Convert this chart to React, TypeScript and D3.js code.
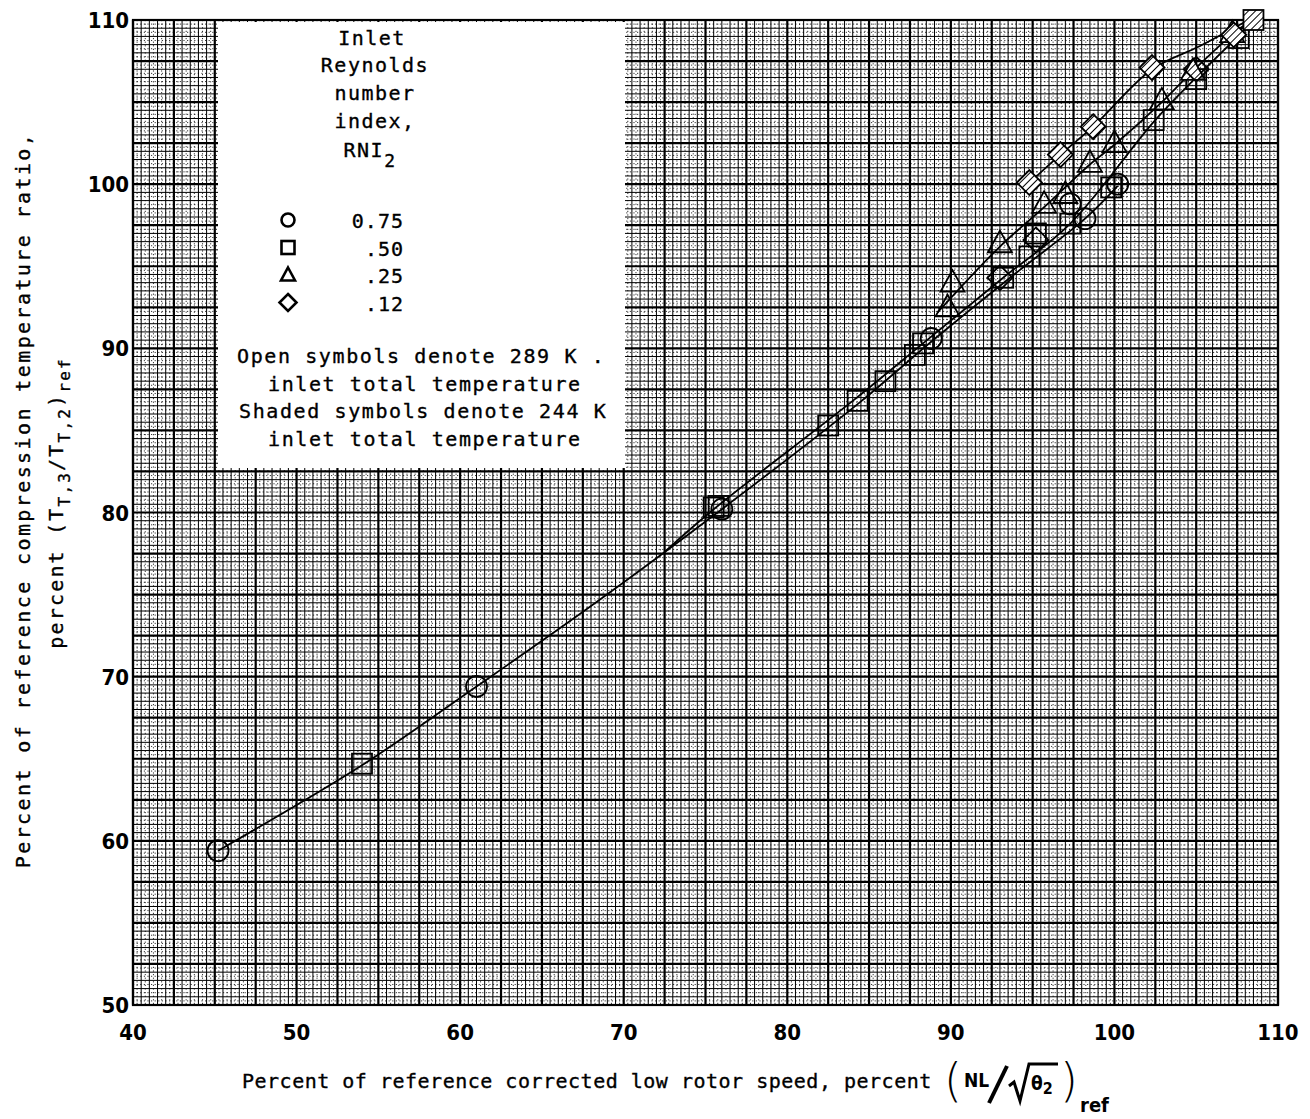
import React from "react";
import * as d3 from "d3";

// ---- data ----
const xTicks = [40, 50, 60, 70, 80, 90, 100, 110];
const yTicks = [50, 60, 70, 80, 90, 100, 110];

// faired curves [speed, temperature ratio]
const curveCommon: [number, number][] = [
  [45.2, 59.4], [54.0, 64.6], [61.0, 69.4], [68.0, 74.3], [76.0, 80.2], [84.3, 86.6], [88.8, 90.4], [94.0, 94.6], [98.2, 97.9], [100.2, 99.9],
];
const curve050: [number, number][] = [
  [72.5, 77.6], [75.5, 80.2], [84.0, 86.8], [88.3, 90.3], [93.2, 94.3], [97.3, 97.6], [102.4, 103.8], [105.0, 106.5], [108.6, 110.0],
];
const curve025: [number, number][] = [
  [89.2, 92.2], [93.0, 96.2], [95.7, 98.6], [98.5, 101.2], [100.0, 102.4], [102.9, 105.0], [104.8, 106.9], [107.3, 109.2], [108.4, 110.0],
];
const curve012: [number, number][] = [
  [94.6, 99.9], [96.7, 101.8], [98.7, 103.5], [102.3, 107.0], [105.2, 108.4], [108.2, 110.0],
];

const circles: [number, number, number][] = [ // x, y, shaded
  [45.2, 59.4, 0], [61.0, 69.4, 0], [76.0, 80.2, 0], [88.8, 90.6, 0], [98.2, 97.9, 0], [100.2, 100.0, 0], [97.3, 98.8, 0],
];
const squares: [number, number, number][] = [
  [54.0, 64.7, 0], [75.5, 80.3, 0], [75.8, 80.4, 0], [82.5, 85.3, 0], [84.3, 86.8, 0], [86.0, 88.0, 0], [87.8, 89.6, 0], [88.3, 90.3, 0],
  [93.2, 94.3, 0], [94.8, 95.6, 0], [95.2, 97.0, 0], [97.3, 97.6, 0], [99.8, 99.8, 0], [102.4, 103.9, 0], [105.0, 106.4, 0], [107.6, 108.9, 0], [108.5, 110.0, 1],
];
const triangles: [number, number, number][] = [
  [89.8, 92.5, 0], [90.1, 94.0, 0], [93.0, 96.4, 0], [95.7, 98.8, 0], [97.0, 99.4, 0], [98.5, 101.3, 0], [100.0, 102.5, 0], [102.9, 105.1, 0], [104.8, 106.9, 1], [107.2, 109.2, 1],
];
const diamonds: [number, number, number][] = [
  [93.0, 94.3, 0], [95.2, 96.6, 0], [94.8, 100.1, 1], [96.7, 101.8, 1], [98.7, 103.5, 1], [102.3, 107.1, 1], [105.0, 107.0, 0], [107.3, 109.1, 1],
];

const legendRows = [
  { sym: "circle", label: "0.75" },
  { sym: "square", label: ".50" },
  { sym: "triangle", label: ".25" },
  { sym: "diamond", label: ".12" },
];

// ---- layout ----
const W = 1310, H = 1119;
const X0 = 133, X1 = 1278, Y0 = 1005, Y1 = 20;
const x = d3.scaleLinear().domain([40, 110]).range([X0, X1]);
const y = d3.scaleLinear().domain([50, 110]).range([Y0, Y1]);

const mono = "'DejaVu Sans Mono', 'Liberation Mono', monospace";
const narrow = "'DejaVu Sans Condensed', 'Liberation Sans Narrow', 'Roboto', sans-serif";

function Marker({ kind, cx, cy, shaded }: { kind: string; cx: number; cy: number; shaded: boolean }) {
  const fill = shaded ? "url(#hatch)" : "none";
  const common = { fill, stroke: "#000", strokeWidth: 1.8 };
  if (kind === "circle") return <circle cx={cx} cy={cy} r={10.5} {...common} />;
  if (kind === "square") return <rect x={cx - 10} y={cy - 10} width={20} height={20} {...common} />;
  if (kind === "triangle") {
    const s = 12;
    return <path d={`M${cx},${cy - s * 1.05}L${cx + s},${cy + s * 0.75}L${cx - s},${cy + s * 0.75}Z`} {...common} />;
  }
  const s = 12.5;
  return <path d={`M${cx},${cy - s}L${cx + s},${cy}L${cx},${cy + s}L${cx - s},${cy}Z`} {...common} />;
}

function LegendSym({ kind, cx, cy }: { kind: string; cx: number; cy: number }) {
  const p = { fill: "none", stroke: "#000", strokeWidth: 2.6 };
  if (kind === "circle") return <circle cx={cx} cy={cy} r={6.5} {...p} />;
  if (kind === "square") return <rect x={cx - 6.5} y={cy - 6.5} width={13} height={13} {...p} />;
  if (kind === "triangle") return <path d={`M${cx},${cy - 7.5}L${cx + 7},${cy + 5.5}L${cx - 7},${cy + 5.5}Z`} {...p} />;
  return <path d={`M${cx},${cy - 8.5}L${cx + 8.5},${cy}L${cx},${cy + 8.5}L${cx - 8.5},${cy}Z`} {...p} />;
}

export default function App() {
  const gridV: { v: number; kind: number }[] = [];
  for (let i = 0; i <= 280; i++) {
    const v = 40 + i * 0.25;
    const kind = i % 10 === 0 ? 2 : i % 2 === 0 ? 1 : 0;
    gridV.push({ v, kind });
  }
  const gridH: { v: number; kind: number }[] = [];
  for (let i = 0; i <= 240; i++) {
    const v = 50 + i * 0.25;
    const kind = i % 10 === 0 ? 2 : i % 2 === 0 ? 1 : 0;
    gridH.push({ v, kind });
  }
  const line = d3.line<[number, number]>().x((d) => x(d[0])).y((d) => y(d[1])).curve(d3.curveCatmullRom.alpha(0.5));

  const lw = [0.8, 1.0, 2.2];
  const dash = ["1.2,2.4", undefined, undefined];

  return (
    <svg width={W} height={H} style={{ position: "absolute", left: 0, top: 0, background: "#fff" }}>
      <defs>
        <pattern id="hatch" patternUnits="userSpaceOnUse" width={5} height={5} patternTransform="rotate(45)">
          <rect width={5} height={5} fill="#fff" />
          <line x1={0} y1={0} x2={0} y2={5} stroke="#000" strokeWidth={2} />
        </pattern>
        <clipPath id="plot">
          <rect x={X0} y={Y1} width={X1 - X0} height={Y0 - Y1} />
        </clipPath>
      </defs>
      <rect width={W} height={H} fill="#fff" />
      {/* grid */}
      <g>
        {gridV.map((g, i) => (
          <line key={"v" + i} x1={x(g.v)} x2={x(g.v)} y1={Y1} y2={Y0} stroke="#000" strokeWidth={lw[g.kind]} strokeDasharray={dash[g.kind]} />
        ))}
        {gridH.map((g, i) => (
          <line key={"h" + i} x1={X0} x2={X1} y1={y(g.v)} y2={y(g.v)} stroke="#000" strokeWidth={lw[g.kind]} strokeDasharray={dash[g.kind]} />
        ))}
        <rect x={X0} y={Y1} width={X1 - X0} height={Y0 - Y1} fill="none" stroke="#000" strokeWidth={2.2} />
      </g>
      {/* legend box */}
      <rect x={218} y={Y1 + 2} width={407} height={446} fill="#fff" />
      <g fontFamily={mono} fontSize={20} fill="#000" stroke="#000" strokeWidth={0.35} textAnchor="middle" letterSpacing={1.5}>
        <text x={372} y={45}>Inlet</text>
        <text x={375} y={72}>Reynolds</text>
        <text x={375} y={100}>number</text>
        <text x={375} y={128}>index,</text>
        <text x={370} y={157}>RNI<tspan dy={10} fontSize={18}>2</tspan></text>
        {legendRows.map((r, i) => (
          <g key={r.label}>
            <LegendSym kind={r.sym} cx={288} cy={220 + i * 27.5} />
            <text x={404} y={228 + i * 27.5} textAnchor="end" letterSpacing={1}>{r.label}</text>
          </g>
        ))}
        <g textAnchor="start" letterSpacing={1.6}>
          <text x={237} y={363}>Open symbols denote 289 K .</text>
          <text x={268} y={391}>inlet total temperature</text>
          <text x={239} y={418}>Shaded symbols denote 244 K</text>
          <text x={268} y={446}>inlet total temperature</text>
        </g>
      </g>
      {/* curves */}
      <g clipPath="url(#plot)" fill="none" stroke="#000" strokeWidth={1.8}>
        <path d={line(curveCommon) || ""} />
        <path d={line(curve050) || ""} />
        <path d={line(curve025) || ""} />
        <path d={line(curve012) || ""} />
      </g>
      {/* markers */}
      <g>
        {circles.map((d, i) => <Marker key={"c" + i} kind="circle" cx={x(d[0])} cy={y(d[1])} shaded={!!d[2]} />)}
        {squares.map((d, i) => <Marker key={"s" + i} kind="square" cx={x(d[0])} cy={y(d[1])} shaded={!!d[2]} />)}
        {triangles.map((d, i) => <Marker key={"t" + i} kind="triangle" cx={x(d[0])} cy={y(d[1])} shaded={!!d[2]} />)}
        {diamonds.map((d, i) => <Marker key={"d" + i} kind="diamond" cx={x(d[0])} cy={y(d[1])} shaded={!!d[2]} />)}
      </g>
      {/* tick labels */}
      <g fontFamily={narrow} fontSize={22} fontWeight="bold" fill="#000">
        {xTicks.map((t) => (
          <text key={"xt" + t} x={x(t)} y={1040} textAnchor="middle">{t}</text>
        ))}
        {yTicks.map((t) => (
          <text key={"yt" + t} x={X0 - 4} y={y(t) + 8} textAnchor="end">{t}</text>
        ))}
      </g>
      {/* axis titles */}
      <g fontFamily={mono} fontSize={20} fill="#000">
        <g stroke="#000" strokeWidth={0.35}>
          <text x={242} y={1088} letterSpacing={0.5}>Percent of reference corrected low rotor speed, percent</text>
          <g transform="translate(30,500) rotate(-90)">
            <text x={0} y={0} textAnchor="middle" letterSpacing={2.4}>Percent of reference compression temperature ratio,</text>
          </g>
          <g transform="translate(63,503) rotate(-90)">
            <text x={0} y={0} textAnchor="middle" letterSpacing={2.2}>
              percent (T<tspan dy={7} fontSize={16}>T,3</tspan><tspan dy={-7}>/T</tspan><tspan dy={7} fontSize={16}>T,2</tspan><tspan dy={-7}>)</tspan><tspan dy={7} fontSize={16}>ref</tspan>
            </text>
          </g>
        </g>
        <text x={944} y={1096} fontSize={46} fontFamily="'DejaVu Sans', sans-serif" fontWeight="300">(</text>
        <text x={964} y={1087} fontFamily={narrow} fontSize={19} fontWeight="bold">NL</text>
        <path d="M1007,1066 L989,1103" stroke="#000" strokeWidth={4} />
        <path d="M1009,1086 L1014,1082 L1020,1101 L1029,1064 L1058,1064" stroke="#000" strokeWidth={3} fill="none" />
        <text x={1031} y={1090} fontFamily={narrow} fontSize={19} fontWeight="bold">θ<tspan dy={4} fontSize={16}>2</tspan></text>
        <text x={1060} y={1096} fontSize={46} fontFamily="'DejaVu Sans', sans-serif" fontWeight="300">)</text>
        <text x={1080} y={1112} fontFamily={narrow} fontSize={20} fontWeight="bold">ref</text>
      </g>
    </svg>
  );
}
